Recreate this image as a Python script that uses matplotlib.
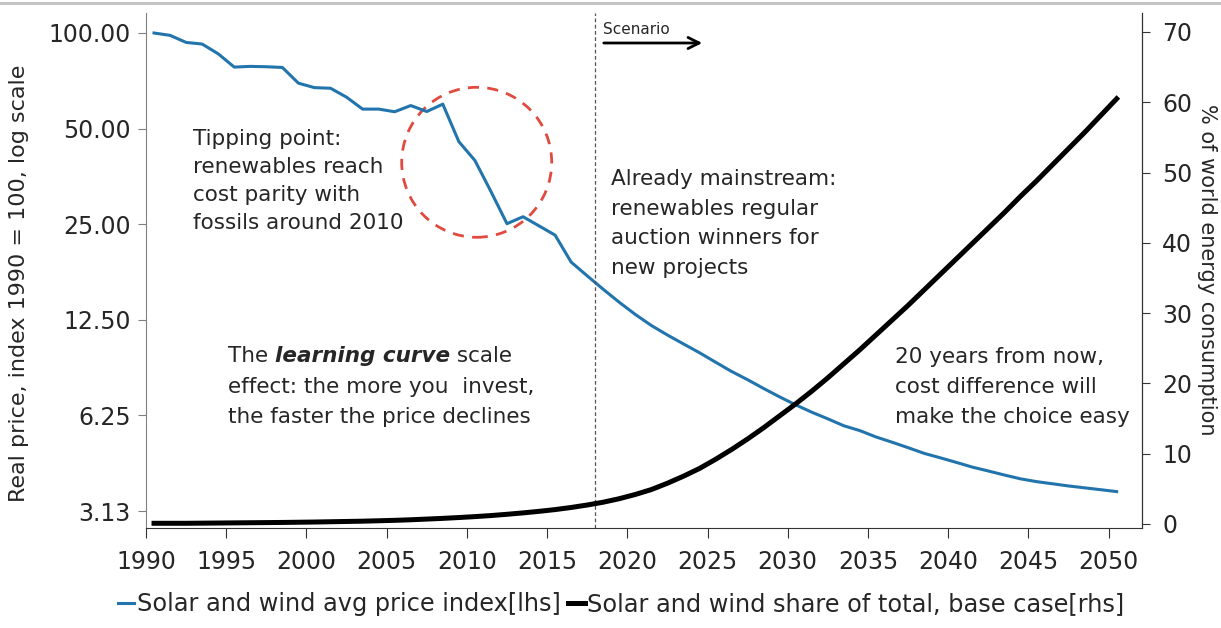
import matplotlib
matplotlib.use("Agg")
from matplotlib import pyplot as plt
from matplotlib.patches import Ellipse, Rectangle, FancyArrowPatch

# data
years = list(range(1990, 2051))
price_index = [100.0, 98.3, 93.4, 92.3, 86.0, 78.1, 78.5, 78.3, 77.9, 69.5,
               67.3, 67.0, 62.8, 57.6, 57.6, 56.5, 59.1, 56.6, 59.7, 45.5,
               39.7, 31.7, 25.1, 26.4, 24.7, 23.1, 19.0, 17.2, 15.6, 14.2,
               13.0, 12.0, 11.2, 10.5, 9.85, 9.2, 8.6, 8.1, 7.6, 7.15,
               6.75, 6.4, 6.1, 5.8, 5.6, 5.35, 5.15, 4.95, 4.75, 4.6,
               4.45, 4.3, 4.18, 4.06, 3.95, 3.87, 3.81, 3.75, 3.7, 3.65, 3.6]
share = [0.1, 0.1, 0.1, 0.12, 0.14, 0.16, 0.18, 0.2, 0.22, 0.25,
         0.28, 0.32, 0.36, 0.4, 0.46, 0.52, 0.6, 0.7, 0.8, 0.92,
         1.05, 1.2, 1.38, 1.58, 1.8, 2.05, 2.35, 2.7, 3.1, 3.6,
         4.2, 4.9, 5.8, 6.8, 7.9, 9.2, 10.6, 12.1, 13.7, 15.4,
         17.1, 18.9, 20.8, 22.8, 24.8, 26.9, 29.0, 31.1, 33.3, 35.5,
         37.7, 39.9, 42.1, 44.3, 46.6, 48.8, 51.1, 53.4, 55.7, 58.1, 60.5]

left_ticks = [3.125, 6.25, 12.5, 25, 50, 100]
left_labels = ["3.13", "6.25", "12.50", "25.00", "50.00", "100.00"]
right_ticks = [0, 10, 20, 30, 40, 50, 60, 70]
label_years = list(range(1990, 2051, 5))
scenario_start = 2017.5

W, H = 1221, 628
TXT = "#262626"
BLUE = "#2274ad"


def fx(px):
    return px / W


def fy(py):
    return 1 - py / H


fig = plt.figure(figsize=(W / 100, H / 100), dpi=100)
fig.add_artist(Rectangle((0, fy(5)), 1, 3 / H, transform=fig.transFigure,
                         color="#c4c4c4", lw=0))

ax = fig.add_axes([fx(146), fy(528), fx(1141.5) - fx(146), fy(13) - fy(528)])
ax2 = ax.twinx()

ax.plot(years, price_index, color=BLUE, lw=2.2, label="Solar and wind avg price index[lhs]")
ax2.plot(years, share, color="black", lw=3.6, label="Solar and wind share of total, base case[rhs]")

ax.set_yscale("log", base=2)
ax.set_ylim(2.765, 115.6)
ax.set_yticks(left_ticks)
ax.set_yticklabels(left_labels)
ax.minorticks_off()
ax2.set_ylim(-0.57, 72.7)
ax2.set_yticks(right_ticks)

# category-style axis: tick marks sit half a year before each labelled year
ax.set_xlim(1989.5, 2051.55)
ax.set_xticks([y - 0.5 for y in label_years])
ax.set_xticklabels([str(y) for y in label_years])

for a in (ax, ax2):
    a.spines["top"].set_visible(False)
ax.spines["left"].set_color("#808080")
ax.spines["bottom"].set_color("#333333")
ax2.spines["right"].set_color("#333333")
ax2.spines["left"].set_visible(False)
ax2.spines["bottom"].set_visible(False)

ax.tick_params(axis="y", length=6, color="#808080", labelsize=17, labelcolor=TXT, pad=5)
ax.tick_params(axis="x", length=7, color="#333333", labelsize=17, labelcolor=TXT, pad=9)
ax2.tick_params(axis="y", length=6, color="#333333", labelsize=17, labelcolor=TXT, pad=9)

ax.set_ylabel("Real price, index 1990 = 100, log scale", fontsize=16, color=TXT)
ax.yaxis.set_label_coords(fx(29), fy(283), transform=fig.transFigure)
ax2.set_ylabel("% of world energy consumption", fontsize=15, color=TXT, rotation=270, va="center")
ax2.yaxis.set_label_coords(fx(1207), fy(270), transform=fig.transFigure)

# scenario marker
ax.axvline(scenario_start, color="#555555", lw=0.9, ls=(0, (3, 2)))
fig.text(fx(603), fy(30), "Scenario", fontsize=11, color=TXT, va="center", ha="left")
fig.add_artist(FancyArrowPatch(
    (fx(601), fy(43)), (fx(705), fy(43)), transform=fig.transFigure,
    arrowstyle="->,head_length=8,head_width=4", color="black", lw=2))

# tipping point circle
ax.add_patch(Ellipse((fx(476.7), fy(162.3)), 150 / W, 150 / H, transform=fig.transFigure,
                     fill=False, ec="#e04a3f", lw=2, ls=(0, (4, 3)), clip_on=False))

kw = dict(fontsize=15.5, color=TXT, ha="left", va="center")
fig.text(fx(193), fy(180.5), "Tipping point:\nrenewables reach\ncost parity with\nfossils around 2010",
         linespacing=1.5, **kw)
fig.text(fx(611), fy(223.5), "Already mainstream:\nrenewables regular\nauction winners for\nnew projects",
         linespacing=1.6, **kw)
fig.text(fx(895), fy(387), "20 years from now,\ncost difference will\nmake the choice easy",
         linespacing=1.6, **kw)

t1 = fig.text(fx(228), fy(356), "The ", fontsize=15.5, color=TXT, ha="left", va="center")
t2 = ax.annotate("learning curve", xy=(1, 0), xycoords=t1, fontsize=15.5, color=TXT,
                 fontweight="bold", style="italic", va="bottom", ha="left")
ax.annotate(" scale", xy=(1, 0), xycoords=t2, fontsize=15.5, color=TXT, va="bottom", ha="left")
fig.text(fx(228), fy(402), "effect: the more you  invest,\nthe faster the price declines",
         linespacing=1.6, **kw)

h1, l1 = ax.get_legend_handles_labels()
h2, l2 = ax2.get_legend_handles_labels()
fig.legend(h1 + h2, l1 + l2, loc="center", bbox_to_anchor=(fx(621), fy(604)), ncol=2,
           frameon=False, fontsize=17.3, handlelength=0.7, handletextpad=0.1,
           columnspacing=0.3, labelcolor=TXT)

fig.savefig("out.png", dpi=100)
